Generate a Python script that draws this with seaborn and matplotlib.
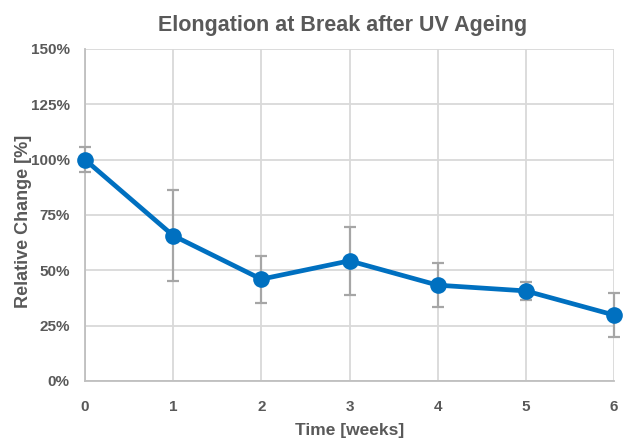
import matplotlib
matplotlib.use("Agg")
import matplotlib.pyplot as plt
import seaborn as sns
import pandas as pd
from matplotlib.ticker import PercentFormatter

weeks = [0, 1, 2, 3, 4, 5, 6]
relative_change = [100.0, 65.7, 46.0, 54.3, 43.3, 40.7, 29.8]
error = [5.5, 20.7, 10.6, 15.4, 9.8, 4.2, 10.0]

BLUE = "#0070C0"
TEXT = "#595959"
GRID = "#D9D9D9"
ERR = "#A6A6A6"

sns.set_theme(style="white")
plt.rcParams["font.family"] = ["Liberation Sans", "DejaVu Sans"]

df = pd.DataFrame({"week": weeks, "change": relative_change, "err": error})

fig = plt.figure(figsize=(6.28, 4.41), dpi=100)
ax = fig.add_axes([85 / 628, 1 - 381 / 441, 529 / 628, 332 / 441])

ax.errorbar(
    df["week"], df["change"], yerr=df["err"],
    fmt="none", ecolor=ERR, elinewidth=1.6, capsize=4, capthick=1.6,
    zorder=3, clip_on=False,
)
sns.lineplot(
    data=df, x="week", y="change", ax=ax, color=BLUE, linewidth=3.4,
    marker="o", markersize=12, markeredgewidth=0, zorder=4, clip_on=False,
)

ax.set_xlim(0, 6)
ax.set_ylim(0, 150)
ax.set_xticks(weeks)
ax.set_yticks([0, 25, 50, 75, 100, 125, 150])
ax.yaxis.set_major_formatter(PercentFormatter(decimals=0))
ax.grid(True, color=GRID, linewidth=1.3)
ax.set_axisbelow(True)

for side in ["top", "right"]:
    ax.spines[side].set_visible(False)
for side in ["left", "bottom"]:
    ax.spines[side].set_color("#BFBFBF")
    ax.spines[side].set_linewidth(1.3)

ax.tick_params(axis="both", length=0, labelsize=11, labelcolor=TEXT)
ax.tick_params(axis="x", pad=14)
ax.tick_params(axis="y", pad=11)
for lbl in ax.get_xticklabels() + ax.get_yticklabels():
    lbl.set_fontweight("bold")

ax.set_xlabel("Time [weeks]", fontsize=12.5, fontweight="bold", color=TEXT, va="center")
ax.set_ylabel("Relative Change [%]", fontsize=13, fontweight="bold", color=TEXT, va="center")
ax.xaxis.set_label_coords(0.5, (381 - 430) / 332)
ax.yaxis.set_label_coords((24 - 85) / 529, (381 - 221) / 332)

fig.text(343 / 628, 1 - 25 / 441, "Elongation at Break after UV Ageing",
         ha="center", va="center", fontsize=15.5, fontweight="bold", color=TEXT)

fig.savefig("out.png", dpi=100)
